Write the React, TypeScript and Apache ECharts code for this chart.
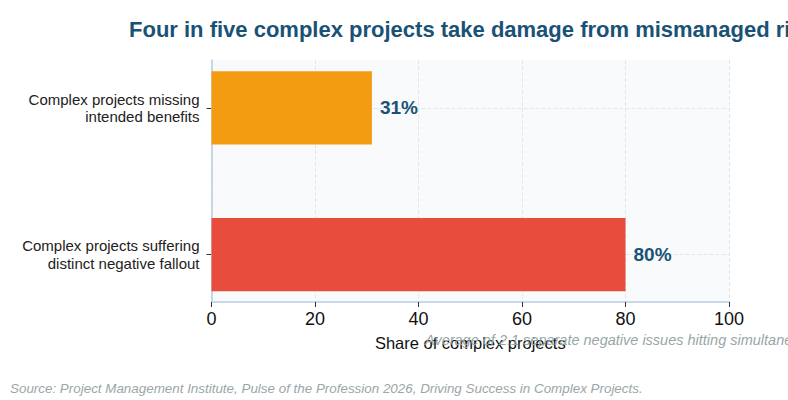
import { useEffect, useRef } from 'react';
import * as echarts from 'echarts';

// categories top to bottom
const categories = [
  'Complex projects missing\nintended benefits',
  'Complex projects suffering\ndistinct negative fallout',
];
const shares = [31, 80];
const barColors = ['#f39c12', '#e74c3c'];
const xTicks = { min: 0, max: 100, step: 20 };

const titleText = 'Four in five complex projects take damage from mismanaged risk';
const axisName = 'Share of complex projects';
const noteText = 'Average of 2.1 separate negative issues hitting simultaneously';
const sourceText =
  'Source: Project Management Institute, Pulse of the Profession 2026, Driving Success in Complex Projects.';

const FONT = 'Arial, "Liberation Sans", Helvetica, sans-serif';
const DARK_BLUE = '#1a5276';
const GRID_LINE = '#e3e7ec';

const App = () => {
  const chartRef = useRef<HTMLDivElement>(null);

  useEffect(() => {
    if (!chartRef.current) return;
    document.body.style.margin = '0';
    const myChart = echarts.init(chartRef.current, null, { renderer: 'svg' });

    const option: echarts.EChartsOption = {
      animation: false,
      textStyle: { fontFamily: FONT },
      title: {
        text: titleText,
        left: 129,
        top: 18,
        padding: 0,
        textStyle: { fontSize: 22, fontWeight: 'bold', color: DARK_BLUE, fontFamily: FONT },
      },
      grid: [
        // frame: background, x axis, split lines
        { left: 211.5, right: 59, top: 60, bottom: 98, show: true, backgroundColor: '#f8fafc', borderWidth: 0 },
        // bars
        { left: 211.5, right: 59, top: 34.5, bottom: 72 },
      ],
      xAxis: [
        {
          type: 'value',
          gridIndex: 0,
          min: xTicks.min,
          max: xTicks.max,
          interval: xTicks.step,
          name: axisName,
          nameLocation: 'middle',
          nameGap: 32,
          nameTextStyle: { fontSize: 16.5, color: '#111' },
          axisLine: { show: true, lineStyle: { color: '#b8cce4', width: 1.5 } },
          axisTick: { show: true, length: 5, lineStyle: { color: '#333' } },
          axisLabel: { fontSize: 18, color: '#111', margin: 8 },
          splitLine: { show: true, lineStyle: { type: 'dashed', color: GRID_LINE } },
        },
        {
          type: 'value',
          gridIndex: 1,
          min: xTicks.min,
          max: xTicks.max,
          show: false,
        },
      ],
      yAxis: [
        {
          type: 'value',
          gridIndex: 0,
          min: 0,
          max: 1,
          axisLine: { show: true, lineStyle: { color: '#b8cce4', width: 1.5 } },
          axisTick: { show: false },
          axisLabel: { show: false },
          splitLine: { show: false },
        },
        {
          type: 'category',
          gridIndex: 1,
          inverse: true,
          data: categories,
          axisLine: { show: false },
          axisTick: { show: true, alignWithLabel: true, length: 5, lineStyle: { color: '#333' } },
          axisLabel: { fontSize: 15, color: '#222', lineHeight: 17.5, margin: 12 },
          splitLine: { show: false },
        },
      ],
      series: [
        {
          type: 'bar',
          xAxisIndex: 1,
          yAxisIndex: 1,
          z: 3,
          barWidth: '50%',
          data: shares.map((v, i) => ({ value: v, itemStyle: { color: barColors[i] } })),
          label: {
            show: true,
            position: 'right',
            distance: 8,
            formatter: '{c}%',
            fontSize: 19,
            fontWeight: 'bold',
            color: DARK_BLUE,
          },
          // horizontal guide lines at category centres, under the bars
          markLine: {
            z: 1,
            silent: true,
            symbol: 'none',
            label: { show: false },
            lineStyle: { type: 'dashed', color: GRID_LINE, width: 1 },
            data: categories.map((c) => ({ yAxis: c })),
          },
        },
      ],
      graphic: [
        {
          type: 'text',
          x: 425,
          y: 340,
          z: 10,
          style: {
            text: noteText,
            font: `italic 14.5px ${FONT}`,
            fill: '#9aa6a8',
            verticalAlign: 'middle',
          },
        },
        {
          type: 'text',
          x: 10,
          y: 388,
          style: {
            text: sourceText,
            font: `italic 13.4px ${FONT}`,
            fill: '#9aa6a8',
            verticalAlign: 'middle',
          },
        },
      ],
    };

    myChart.setOption(option);
    return () => {
      myChart.dispose();
    };
  }, []);

  return <div ref={chartRef} style={{ width: '788px', height: '400px' }} />;
};

export default App;
